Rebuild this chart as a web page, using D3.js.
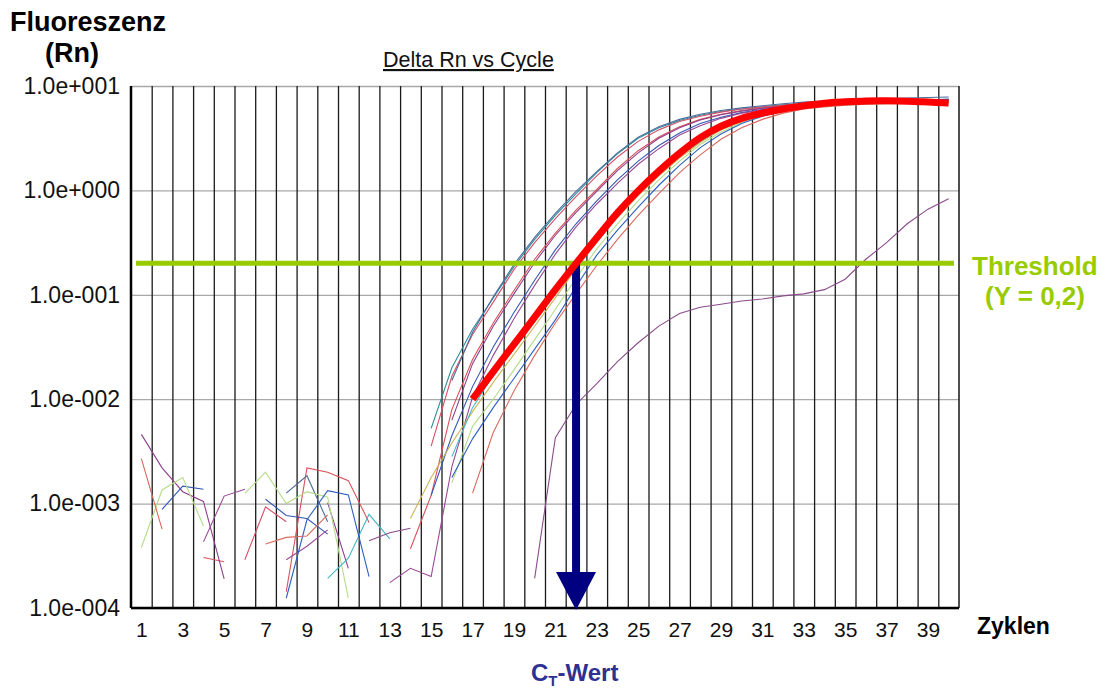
<!DOCTYPE html>
<html><head><meta charset="utf-8">
<script src="https://cdn.jsdelivr.net/npm/d3@7"></script>
<style>
body{margin:0;background:#fff}
svg{display:block;font-family:"Liberation Sans",Arial,sans-serif}
</style>
</head><body>
<svg id="chart" width="1106" height="690"></svg>
<script>
// ---------- data ----------
const cycles = d3.range(1, 41);
const xTickLabels = d3.range(1, 40, 2);
const yTickValues = [1e1, 1e0, 1e-1, 1e-2, 1e-3, 1e-4];
const yTickLabels = ["1.0e+001", "1.0e+000", "1.0e-001", "1.0e-002", "1.0e-003", "1.0e-004"];
const thresholdValue = 0.2;
const ctCycle = 22;

const teal = [null,null,null,null,null,null,null,null,null,null,null,null,null,null,
  5.25e-3,2.0e-2,4.68e-2,9.33e-2,0.186,0.339,0.575,0.933,1.48,2.24,3.16,3.98,4.68,5.25,5.69,6.03,6.31,6.61,6.76,6.92,7.08,7.16,7.24,7.33,7.41,7.41];
const redA = [null,null,null,null,null,2.9e-4,9.3e-4,6.7e-4,null,null,null,null,null,null,
  3.55e-3,1.66e-2,4.17e-2,8.5e-2,0.174,0.316,0.537,0.871,1.38,2.09,2.95,3.80,4.57,5.13,5.62,6.03,6.31,6.53,6.68,6.84,6.92,7.0,7.08,7.08,7.16,7.16];
const blueGray = [null,null,null,null,null,null,null,1.26e-3,1.85e-3,6.7e-4,null,null,null,null,null,
  1.51e-2,4.37e-2,9.55e-2,0.195,0.355,0.603,0.977,1.51,2.29,3.24,4.07,4.79,5.37,5.82,6.17,6.46,6.76,7.0,7.16,7.33,7.5,7.59,7.67,7.76,7.85];
const redB = [null,null,null,3.05e-4,2.77e-4,null,null,1.43e-4,2.2e-3,2.0e-3,1.66e-3,6.6e-4,null,3.7e-4,
  1.2e-3,7.94e-3,2.4e-2,5.37e-2,0.110,0.219,0.389,0.646,1.02,1.62,2.40,3.24,4.07,4.79,5.37,5.82,6.17,6.46,6.68,6.84,7.0,7.08,7.16,7.24,7.24,7.33];
const purpleA = [4.6e-3,2.2e-3,1.3e-3,1.05e-3,1.9e-4,null,null,null,null,1.02e-3,2.4e-4,null,null,null,null,
  6.3e-3,2.19e-2,5.0e-2,0.102,0.204,0.372,0.617,0.977,1.55,2.29,3.16,3.98,4.73,5.31,5.75,6.1,6.38,6.61,6.76,6.92,7.0,7.08,7.16,7.24,7.24];
const blueA = [null,8.8e-4,1.47e-3,1.37e-3,null,null,1.1e-3,7.7e-4,7.2e-4,5.1e-4,null,null,null,null,
  1.2e-3,4.47e-3,1.32e-2,3.16e-2,6.76e-2,0.138,0.269,0.479,0.794,1.26,1.91,2.69,3.55,4.37,5.01,5.56,5.96,6.31,6.53,6.76,6.92,7.08,7.16,7.24,7.33,7.41];
const purpleB = [null,null,null,4.3e-4,1.18e-3,1.37e-3,null,2.9e-4,3.9e-4,5.6e-4,null,null,1.75e-4,2.4e-4,2.0e-4,
  2.25e-3,1.05e-2,2.63e-2,5.89e-2,0.123,0.245,0.447,0.741,1.17,1.78,2.51,3.39,4.17,4.90,5.5,5.89,6.24,6.46,6.68,6.84,7.0,7.08,7.16,7.24,7.24];
const lightGreen = [3.8e-4,1.35e-3,1.78e-3,6.1e-4,null,1.25e-3,2.0e-3,1.0e-3,1.3e-3,1.15e-3,1.25e-4,null,null,null,null,
  1.58e-3,5.5e-3,1.0e-2,1.91e-2,3.72e-2,7.24e-2,0.145,0.275,0.479,0.794,1.26,1.91,2.75,3.63,4.47,5.13,5.69,6.1,6.38,6.53,6.68,6.76,6.84,6.84,6.92];
const olive = [null,null,null,null,null,null,null,null,null,null,null,null,null,7.2e-4,
  1.78e-3,3.8e-3,7.6e-3,1.45e-2,2.69e-2,5.0e-2,9.33e-2,0.178,0.324,0.55,0.891,1.38,2.04,2.88,3.80,4.57,5.25,5.75,6.17,6.46,6.61,6.76,6.84,6.92,6.92,7.0];
const cyan = [null,null,null,null,null,null,null,null,null,1.92e-4,3.0e-4,7.9e-4,4.6e-4,null,null,
  2.82e-3,8.3e-3,1.7e-2,3.16e-2,5.75e-2,0.105,0.191,0.339,0.575,0.933,1.45,2.14,2.95,3.89,4.68,5.37,5.89,6.31,6.61,6.76,6.92,7.0,7.08,7.08,7.16];
const blueB = [null,null,null,null,null,null,null,1.24e-4,7.0e-4,1.33e-3,1.21e-3,2.0e-4,null,null,null,
  1.78e-3,4.17e-3,8.3e-3,1.58e-2,3.02e-2,5.75e-2,0.12,0.24,0.417,0.692,1.12,1.74,2.57,3.47,4.37,5.13,5.75,6.17,6.46,6.68,6.84,7.0,7.16,7.33,7.5];
const salmon = [2.7e-3,5.7e-4,null,null,null,null,4.1e-4,4.75e-4,4.9e-4,7.8e-4,null,null,null,null,null,null,
  1.26e-3,4.8e-3,1.2e-2,2.63e-2,5.37e-2,0.102,0.191,0.339,0.575,0.933,1.48,2.19,3.09,3.98,4.79,5.5,6.03,6.31,6.53,6.68,6.76,6.84,6.84,6.92];
const latePurple = [null,null,null,null,null,null,null,null,null,null,null,4.4e-4,5.25e-4,5.8e-4,null,null,null,null,null,
  1.92e-4,4.27e-3,8.9e-3,1.41e-2,2.29e-2,3.47e-2,5.01e-2,6.61e-2,7.59e-2,8.13e-2,8.71e-2,9.12e-2,9.77e-2,0.102,0.112,0.141,0.219,0.316,0.479,0.661,0.832];
const highlight = [null,null,null,null,null,null,null,null,null,null,null,null,null,null,null,null,
  0.01,0.0184,0.0335,0.0610,0.112,0.200,0.352,0.610,0.99,1.53,2.27,3.20,4.12,4.90,5.50,6.03,6.46,6.84,7.05,7.20,7.22,7.16,7.02,6.86];

const thinSeries = [
  {values: teal, color: "#2b8c9c"},
  {values: redA, color: "#d4506a"},
  {values: blueGray, color: "#4b6d9b"},
  {values: redB, color: "#d9505a"},
  {values: purpleA, color: "#8e3f8c"},
  {values: blueA, color: "#3558b5"},
  {values: purpleB, color: "#9a4a96"},
  {values: lightGreen, color: "#b5dc8a"},
  {values: olive, color: "#cbb454"},
  {values: cyan, color: "#45b5c5"},
  {values: blueB, color: "#2f5fc0"},
  {values: salmon, color: "#d86a5e"},
  {values: latePurple, color: "#8a4c8c"}
];

// ---------- layout ----------
const svg = d3.select("#chart");
const pL = 131, pR = 959, pT = 86, pB = 608;
const x = d3.scaleLinear().domain([0.5, 40.5]).range([pL, pR]);
const y = d3.scaleLog().domain([1e-4, 1e1]).range([pB, pT]);

svg.append("rect").attr("width", 1106).attr("height", 690).attr("fill", "#fff");

// horizontal grid
svg.append("g").attr("transform", `translate(${pL},0)`)
  .call(d3.axisLeft(y).tickValues(yTickValues).tickSize(-(pR - pL)).tickFormat(""))
  .call(g => g.select(".domain").remove())
  .call(g => g.selectAll("line").attr("stroke", "#a8a8a8").attr("stroke-width", 1.3));

// vertical grid
svg.append("g").attr("transform", `translate(0,${pB})`)
  .call(d3.axisBottom(x).tickValues(d3.range(1.5, 40, 1)).tickSize(-(pB - pT)).tickFormat(""))
  .call(g => g.select(".domain").remove())
  .call(g => g.selectAll("line").attr("stroke", "#1a1a1a").attr("stroke-width", 1.3));

// frame
svg.append("line").attr("x1", pR).attr("x2", pR).attr("y1", pT).attr("y2", pB)
  .attr("stroke", "#222").attr("stroke-width", 1.6);

// thin curves
const line = d3.line().defined(d => d.v != null && d.v > 0)
  .x(d => x(d.c)).y(d => y(d.v));
const thinG = svg.append("g");
thinSeries.forEach(s => {
  thinG.append("path")
    .datum(s.values.map((v, i) => ({c: cycles[i], v})))
    .attr("fill", "none").attr("stroke", s.color).attr("stroke-width", 1.1)
    .attr("d", line);
});

// axes
const xAxis = svg.append("g").attr("transform", `translate(0,${pB})`)
  .call(d3.axisBottom(x).tickValues(xTickLabels).tickSize(0).tickPadding(14))
  .call(g => g.select(".domain").attr("stroke", "#000").attr("stroke-width", 2.5))
  .call(g => g.selectAll("text").attr("font-size", 21).attr("fill", "#111")
    .attr("font-family", "'Liberation Sans', Arial, sans-serif"));
xAxis.select(".domain").attr("d", `M${pL},0H${pR}`);

const yAxis = svg.append("g").attr("transform", `translate(${pL},0)`)
  .call(d3.axisLeft(y).tickValues(yTickValues).tickFormat((d, i) => yTickLabels[i]).tickSize(0).tickPadding(11))
  .call(g => g.select(".domain").attr("stroke", "#000").attr("stroke-width", 2.5))
  .call(g => g.selectAll("text").attr("font-size", 23).attr("fill", "#111")
    .attr("font-family", "'Liberation Sans', Arial, sans-serif"));
yAxis.select(".domain").attr("d", `M0,${pT}V${pB}`);

// threshold
const thrColor = "#99cc00";
svg.append("line").attr("x1", pL + 5).attr("x2", pR - 5)
  .attr("y1", y(thresholdValue)).attr("y2", y(thresholdValue))
  .attr("stroke", thrColor).attr("stroke-width", 5);

// CT arrow
const ax = x(ctCycle);
const arrowColor = "#000080";
svg.append("rect").attr("x", ax - 4).attr("y", y(thresholdValue))
  .attr("width", 8).attr("height", 572 - y(thresholdValue)).attr("fill", arrowColor);
svg.append("path").attr("d", `M${ax - 20},572L${ax + 20},572L${ax},610Z`).attr("fill", arrowColor);

// highlighted curve
svg.append("path")
  .datum(highlight.map((v, i) => ({c: cycles[i], v})))
  .attr("fill", "none").attr("stroke", "#ff0000").attr("stroke-width", 7)
  .attr("d", line.curve(d3.curveCatmullRom));

// texts
svg.append("text").attr("x", 10).attr("y", 31).attr("font-size", 27).attr("font-weight", "bold")
  .attr("fill", "#000").text("Fluoreszenz");
svg.append("text").attr("x", 72).attr("y", 62).attr("text-anchor", "middle").attr("font-size", 27)
  .attr("font-weight", "bold").attr("fill", "#000").text("(Rn)");
svg.append("text").attr("x", 383).attr("y", 67).attr("font-size", 21.5).attr("fill", "#111")
  .attr("text-decoration", "underline").text("Delta Rn vs Cycle");
svg.append("text").attr("x", 977).attr("y", 634).attr("font-size", 23).attr("font-weight", "bold")
  .attr("fill", "#000").text("Zyklen");
svg.append("text").attr("x", 972).attr("y", 275).attr("font-size", 26).attr("font-weight", "bold")
  .attr("fill", thrColor).text("Threshold");
svg.append("text").attr("x", 985).attr("y", 305).attr("font-size", 26).attr("font-weight", "bold")
  .attr("fill", thrColor).text("(Y = 0,2)");
const ct = svg.append("text").attr("x", 531).attr("y", 681).attr("font-size", 24)
  .attr("font-weight", "bold").attr("fill", "#2e3192");
ct.append("tspan").text("C");
ct.append("tspan").attr("font-size", 15).attr("dy", 5).text("T");
ct.append("tspan").attr("dy", -5).text("-Wert");
</script>
</body></html>
